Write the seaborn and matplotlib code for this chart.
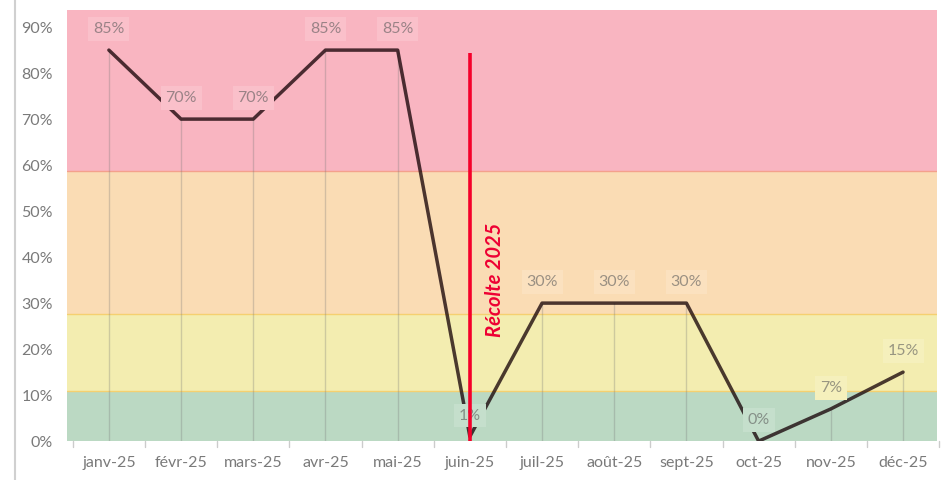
import matplotlib
matplotlib.use("Agg")
import matplotlib.pyplot as plt
import matplotlib.colors as mcolors
import seaborn as sns
import pandas as pd

# Chart data
months = ["janv-25", "févr-25", "mars-25", "avr-25", "mai-25", "juin-25",
          "juil-25", "août-25", "sept-25", "oct-25", "nov-25", "déc-25"]
values = [85, 70, 70, 85, 85, 1, 30, 30, 30, 0, 7, 15]
labels = ["85%", "70%", "70%", "85%", "85%", "1%",
          "30%", "30%", "30%", "0%", "7%", "15%"]

# Background zones (lower bound, upper bound)
zone_bounds = [0, 11, 27.6, 58.7, 93.7]
zone_colors = ["#BBD9C3", "#F3EDB0", "#FADCB4", "#F9B5C1"]
zone_edges = ["#F5D070", "#F5D070", "#F4A08C"]

harvest_month = "juin-25"
harvest_label = "Récolte 2025"
harvest_top = 84.3

sns.set_theme(style="white")
plt.rcParams["font.family"] = ["Lato", "DejaVu Sans"]

df = pd.DataFrame({"idx": range(len(months)), "month": months, "value": values})

fig = plt.figure(figsize=(9.45, 4.8), dpi=100)
ax = fig.add_axes([0.0709, 0.081, 0.9206, 0.898])

# coloured zones
for lo, hi, c in zip(zone_bounds[:-1], zone_bounds[1:], zone_colors):
    ax.axhspan(lo, hi, color=c, zorder=0, lw=0)
for y, c in zip(zone_bounds[1:-1], zone_edges):
    ax.axhline(y, color=c, lw=1, zorder=0.5)

# drop lines
ax.vlines(df["idx"], 0, df["value"], color="#777777", alpha=0.3, lw=1, zorder=1)

sns.lineplot(data=df, x="idx", y="value", ax=ax, color="#140004", alpha=0.76,
             lw=2.5, sort=False, zorder=2)


def zone_color(v):
    for lo, hi, c in zip(zone_bounds[:-1], zone_bounds[1:], zone_colors):
        if lo <= v < hi:
            return c
    return zone_colors[-1]


ylim = zone_bounds[-1]
for i, (v, lab) in enumerate(zip(values, labels)):
    # label sits roughly 4.5 units above the point
    base = mcolors.to_rgb(zone_color(v + 4.5))
    face = tuple(b * 0.85 + 0.15 for b in base)
    ax.annotate(lab, (i, v), xytext=(0, 15), textcoords="offset points",
                ha="center", va="center", fontsize=11.5, color="#5a5a5a", alpha=0.6,
                bbox=dict(boxstyle="square,pad=0.3", fc=face, ec="none"),
                zorder=3)

# harvest marker
hx = months.index(harvest_month)
ax.vlines(hx, 0, harvest_top, color="#F5002A", lw=2.6, zorder=4)
ax.text(hx + 0.35, 35, harvest_label, rotation=90, ha="center", va="center",
        color="#EE0033", fontsize=14.5, fontweight="bold", fontstyle="italic", zorder=4)

ax.set_xlim(-0.58, len(months) - 0.53)
ax.set_ylim(0, ylim)
ax.set_xticks(range(len(months)))
ax.set_xticklabels(months)
ax.set_yticks(range(0, 91, 10))
ax.set_yticklabels([f"{t}%" for t in range(0, 91, 10)])
ax.tick_params(axis="both", labelsize=11.5, length=0)
ax.tick_params(axis="x", pad=11)
ax.tick_params(axis="y", pad=10)
for lab in ax.get_xticklabels() + ax.get_yticklabels():
    lab.set_color("#7a7a7a")
ax.set_xlabel("")
ax.set_ylabel("")
for s in ax.spines.values():
    s.set_visible(False)

# small category separators under the axis
for b in range(len(months) + 1):
    ax.plot([b - 0.5, b - 0.5], [0, -1.2], color="#cccccc", lw=1, clip_on=False)

# frame line at the left edge of the image
fig.add_artist(plt.Line2D([0.016, 0.016], [0, 1], color="#d0d0d0", lw=1.5))

fig.savefig("out.png", dpi=100)
